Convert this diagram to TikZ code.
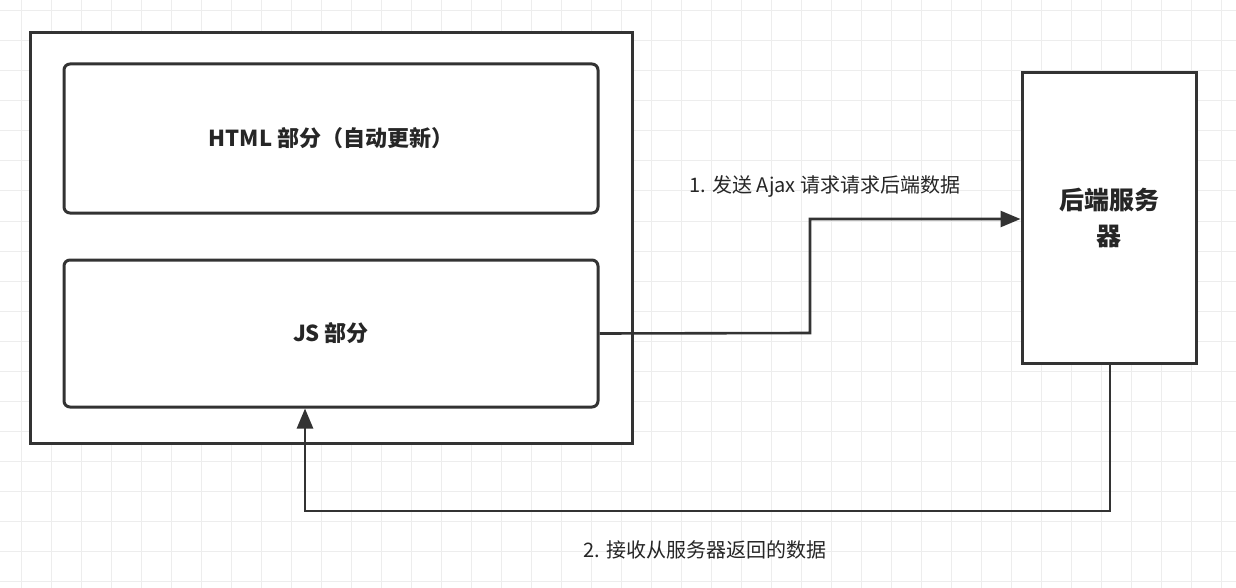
\documentclass[tikz,border=0pt]{standalone}
\usepackage{fontspec}
\setmainfont{Noto Sans CJK SC}
\usetikzlibrary{arrows.meta}
\begin{document}
\begin{tikzpicture}[x=1pt,y=-1pt,
 box/.style={draw=black!80,line width=3pt,fill=white},
 rbox/.style={box,rounded corners=6pt},
 conn/.style={draw=black!80,line width=2.6pt,-{Triangle[length=20pt,width=16pt]}},
 lbl/.style={font=\fontsize{20}{24}\selectfont,text=black!85}]
\fill[white] (0,0) rectangle (1236,588);
\useasboundingbox (0,0) rectangle (1236,588);
\foreach \x in {21,51,...,1236} \draw[black!7,line width=1pt] (\x,0) -- (\x,588);
\foreach \y in {11,41,...,588} \draw[black!7,line width=1pt] (0,\y) -- (1236,\y);
\node[box,minimum width=602pt,minimum height=410pt] (outer) at (331,238) {};
\node[rbox,minimum width=534pt,minimum height=149pt,lbl,font=\fontsize{22}{26}\selectfont] (html) at (331,138.5) {\textbf{HTML 部分（自动更新）}};
\node[rbox,minimum width=534pt,minimum height=147pt,lbl,font=\fontsize{22}{26}\selectfont] (js) at (331,333.5) {\textbf{JS 部分}};
\node[box,minimum width=174pt,minimum height=290pt,lbl,font=\fontsize{25}{36}\selectfont,align=center,text width=150pt] (srv) at (1109,218) {\textbf{后端服务}\\\textbf{器}};
\coordinate (a1) at (810,333);
\coordinate (a2) at (810,219);
\draw[conn] (js.east) -- (a1) -- (a2) -- (srv.west |- a2);
\coordinate (b1) at (1110,511);
\coordinate (b2) at (305,511);
\draw[conn] (1110,363) -- (b1) -- (b2) -- (b2 |- js.south);
\node[lbl,anchor=center] (l1) at (825,186) {1. 发送 Ajax 请求请求后端数据};
\node[lbl,anchor=center] (l2) at (705,550) {2. 接收从服务器返回的数据};
\end{tikzpicture}
\end{document}
